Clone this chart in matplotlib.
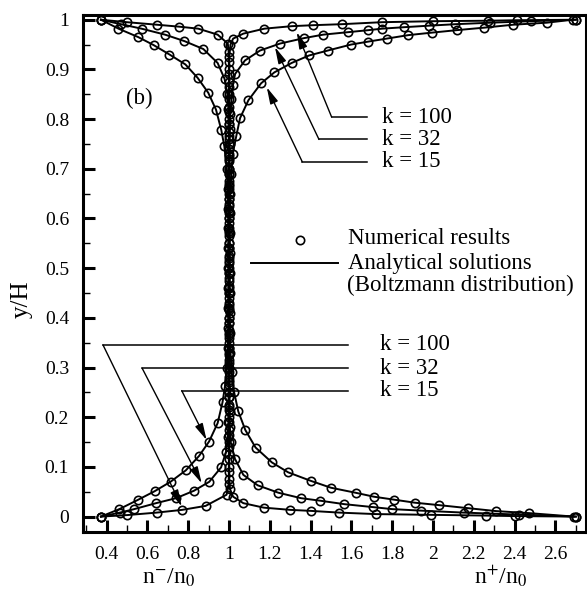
import matplotlib
matplotlib.use("Agg")
import matplotlib.pyplot as plt
from matplotlib.ticker import MultipleLocator, FuncFormatter

plt.rcParams["font.family"] = ["Liberation Serif", "DejaVu Serif"]
plt.rcParams["mathtext.fontset"] = "stix"

# --- marker positions (x = n/n0, y = y/H) ---
# k = 15, anions (n-/n0)
Y_NM15 = [0.000, 0.015, 0.034, 0.051, 0.070, 0.093, 0.122, 0.151, 0.188, 0.230,
          0.262, 0.300, 0.340, 0.380, 0.420, 0.460, 0.500, 0.540, 0.580, 0.620,
          0.660, 0.700, 0.745, 0.778, 0.819, 0.853, 0.883, 0.910, 0.930, 0.949,
          0.965, 0.982, 1.000]
X_NM15 = [0.372, 0.462, 0.555, 0.635, 0.713, 0.788, 0.853, 0.902, 0.944, 0.968,
          0.980, 0.989, 0.994, 0.996, 0.997, 0.997, 0.997, 0.997, 0.997, 0.996,
          0.994, 0.989, 0.977, 0.962, 0.936, 0.898, 0.846, 0.786, 0.708, 0.630,
          0.555, 0.458, 0.372]

# k = 15, cations (n+/n0)
Y_NP15 = [0.000, 0.007, 0.011, 0.017, 0.023, 0.028, 0.034, 0.040, 0.048, 0.058,
          0.072, 0.089, 0.109, 0.139, 0.174, 0.212, 0.250, 0.290, 0.330, 0.370,
          0.410, 0.450, 0.490, 0.530, 0.570, 0.610, 0.650, 0.690, 0.730, 0.765,
          0.802, 0.838, 0.872, 0.894, 0.913, 0.928, 0.938, 0.950, 0.956, 0.962,
          0.969, 0.974, 0.979, 0.984, 0.990, 0.994, 1.000]
X_NP15 = [2.690, 2.470, 2.310, 2.170, 2.030, 1.910, 1.810, 1.710, 1.620, 1.500,
          1.400, 1.290, 1.210, 1.130, 1.080, 1.045, 1.025, 1.013, 1.007, 1.004,
          1.003, 1.003, 1.003, 1.003, 1.003, 1.004, 1.006, 1.011, 1.018, 1.035,
          1.054, 1.095, 1.157, 1.222, 1.307, 1.392, 1.484, 1.598, 1.683, 1.773,
          1.879, 1.994, 2.116, 2.250, 2.394, 2.557, 2.684]

# k = 32, anions
Y_NM32 = [0.000, 0.008, 0.015, 0.027, 0.037, 0.052, 0.070, 0.099, 0.130, 0.160,
          0.190, 0.220, 0.250, 0.280, 0.310, 0.340, 0.370, 0.400, 0.430, 0.460,
          0.490, 0.520, 0.550, 0.580, 0.610, 0.640, 0.670, 0.700, 0.730, 0.760,
          0.790, 0.820, 0.850, 0.881, 0.913, 0.941, 0.957, 0.970, 0.982, 0.991,
          1.000]
X_NM32 = [0.372, 0.465, 0.535, 0.642, 0.740, 0.828, 0.903, 0.961, 0.985, 0.994,
          0.997, 0.998, 0.998, 0.998, 0.998, 0.998, 0.998, 0.998, 0.998, 0.998,
          0.998, 0.998, 0.998, 0.998, 0.998, 0.998, 0.998, 0.998, 0.998, 0.999,
          0.998, 0.997, 0.992, 0.978, 0.944, 0.874, 0.781, 0.686, 0.571, 0.470,
          0.372]

# k = 32, cations
Y_NP32 = [0.000, 0.004, 0.008, 0.012, 0.015, 0.019, 0.025, 0.032, 0.037, 0.048,
          0.063, 0.084, 0.116, 0.150, 0.180, 0.210, 0.240, 0.270, 0.300, 0.330,
          0.360, 0.390, 0.420, 0.450, 0.480, 0.510, 0.540, 0.570, 0.600, 0.630,
          0.660, 0.690, 0.720, 0.750, 0.780, 0.810, 0.840, 0.868, 0.891, 0.918,
          0.938, 0.952, 0.963, 0.970, 0.975, 0.979, 0.982, 0.985, 0.988, 0.991,
          0.994, 0.997, 1.000]
X_NP32 = [2.700, 2.420, 2.150, 1.940, 1.800, 1.707, 1.565, 1.446, 1.353, 1.242,
          1.140, 1.070, 1.029, 1.008, 1.004, 1.003, 1.002, 1.002, 1.002, 1.002,
          1.002, 1.002, 1.002, 1.002, 1.002, 1.002, 1.002, 1.002, 1.002, 1.002,
          1.002, 1.002, 1.002, 1.003, 1.004, 1.006, 1.012, 1.018, 1.030, 1.078,
          1.152, 1.250, 1.368, 1.462, 1.585, 1.683, 1.750, 1.860, 1.980, 2.110,
          2.280, 2.480, 2.700]

# k = 100, anions
Y_NM100 = [0.000, 0.003, 0.008, 0.0135, 0.0215, 0.044, 0.065, 0.090, 0.115, 0.140,
           0.165, 0.190, 0.215, 0.240, 0.265, 0.290, 0.315, 0.340, 0.365, 0.390,
           0.415, 0.440, 0.465, 0.490, 0.515, 0.540, 0.565, 0.590, 0.615, 0.640,
           0.665, 0.690, 0.715, 0.740, 0.765, 0.790, 0.815, 0.840, 0.865, 0.890,
           0.915, 0.935, 0.952, 0.970, 0.982, 0.986, 0.990, 0.995, 1.000]
X_NM100 = [0.372, 0.500, 0.645, 0.770, 0.885, 0.988, 0.998, 0.999, 0.999, 0.999,
           0.999, 0.999, 0.999, 0.999, 0.999, 0.999, 0.999, 0.999, 0.999, 0.999,
           0.999, 0.999, 0.999, 0.999, 0.999, 0.999, 0.999, 0.999, 0.999, 0.999,
           0.999, 0.999, 0.999, 0.999, 0.999, 0.999, 0.999, 0.999, 0.999, 0.999,
           0.999, 0.998, 0.994, 0.944, 0.849, 0.756, 0.645, 0.500, 0.372]

# k = 100, cations
Y_NP100 = [0.000, 0.001, 0.002, 0.0035, 0.005, 0.008, 0.0115, 0.0135, 0.018, 0.027,
           0.040, 0.055, 0.075, 0.100, 0.125, 0.150, 0.175, 0.200, 0.225, 0.250,
           0.275, 0.300, 0.325, 0.350, 0.375, 0.400, 0.425, 0.450, 0.475, 0.500,
           0.525, 0.550, 0.575, 0.600, 0.625, 0.650, 0.675, 0.700, 0.725, 0.750,
           0.775, 0.800, 0.825, 0.850, 0.875, 0.900, 0.925, 0.950, 0.962, 0.972,
           0.982, 0.987, 0.989, 0.991, 0.995, 0.997, 0.998, 0.999, 1.000]
X_NP100 = [2.700, 2.400, 2.260, 1.990, 1.720, 1.540, 1.400, 1.300, 1.170, 1.070,
           1.020, 1.005, 1.001, 1.001, 1.001, 1.001, 1.001, 1.001, 1.001, 1.001,
           1.001, 1.001, 1.001, 1.001, 1.001, 1.001, 1.001, 1.001, 1.001, 1.001,
           1.001, 1.001, 1.001, 1.001, 1.001, 1.001, 1.001, 1.001, 1.001, 1.001,
           1.001, 1.001, 1.001, 1.001, 1.001, 1.001, 1.001, 1.007, 1.020, 1.070,
           1.173, 1.307, 1.413, 1.552, 1.748, 2.000, 2.270, 2.410, 2.700]

CURVES = [(X_NM15, Y_NM15), (X_NP15, Y_NP15),
          (X_NM32, Y_NM32), (X_NP32, Y_NP32),
          (X_NM100, Y_NM100), (X_NP100, Y_NP100)]

K_LABELS = ["k = 100", "k = 32", "k = 15"]

MK = dict(marker="o", ms=6.0, mfc="none", mec="k", mew=1.2)

fig = plt.figure(figsize=(5.87, 5.93), dpi=100)
ax = fig.add_axes([0.1414, 0.1029, 0.8569, 0.8718])

for xs, ys in CURVES:
    ax.plot(xs, ys, color="k", lw=1.4, **MK)

ax.set_xlim(0.284, 2.75)
ax.set_ylim(-0.031, 1.0095)

ax.xaxis.set_major_locator(MultipleLocator(0.2))
ax.xaxis.set_minor_locator(MultipleLocator(0.1))
ax.yaxis.set_major_locator(MultipleLocator(0.1))
ax.yaxis.set_minor_locator(MultipleLocator(0.05))
fmt = FuncFormatter(lambda v, p: f"{round(v, 2):g}")
ax.xaxis.set_major_formatter(fmt)
ax.yaxis.set_major_formatter(fmt)
ax.tick_params(which="major", direction="in", length=8.5, width=2.2,
               labelsize=14, pad=10, top=False, right=False)
ax.tick_params(which="minor", direction="in", length=5, width=1.0,
               top=False, right=False)
for sp in ax.spines.values():
    sp.set_linewidth(2.2)

ax.set_ylabel("y/H", fontsize=18)
ax.yaxis.set_label_coords(-0.10, 0.45)
fig.text(0.288, 0.025, r"n$^{-}$/n$_0$", fontsize=17, ha="center", va="center")
fig.text(0.853, 0.028, r"n$^{+}$/n$_0$", fontsize=17, ha="center", va="center")

ax.text(0.561, 0.842, "(b)", fontsize=16.5, ha="center", va="center")

# legend drawn by hand
ax.plot([1.348], [0.557], linestyle="none", **MK)
ax.text(1.585, 0.5587, "Numerical results", fontsize=16.5, va="center")
ax.plot([1.106, 1.536], [0.51, 0.51], color="k", lw=1.4)
ax.text(1.585, 0.51, "Analytical solutions", fontsize=16.5, va="center")
ax.text(1.577, 0.466, "(Boltzmann distribution)", fontsize=16.5, va="center")

arrow = dict(arrowstyle="-|>,head_length=1.0,head_width=0.25", color="k",
             lw=1.0, shrinkA=0, shrinkB=0, mutation_scale=10)

# upper group: leader start, arrow tip, label
UP_Y = [0.804, 0.759, 0.714]
UP_X0 = [1.503, 1.441, 1.359]
UP_TIP = [(1.332, 0.975), (1.225, 0.945), (1.185, 0.864)]
for lab, y, x0, tip in zip(K_LABELS, UP_Y, UP_X0, UP_TIP):
    ax.plot([x0, 1.675], [y, y], color="k", lw=1.1)
    ax.annotate("", xy=tip, xytext=(x0, y), arrowprops=arrow)
    ax.text(1.749, y, lab, fontsize=16.5, va="center")

# lower group
LO_Y = [0.3455, 0.2986, 0.2535]
LO_X0 = [0.382, 0.574, 0.768]
LO_TIP = [(0.768, 0.0203), (0.866, 0.067), (0.89, 0.154)]
for lab, y, x0, tip in zip(K_LABELS, LO_Y, LO_X0, LO_TIP):
    ax.plot([x0, 1.585], [y, y], color="k", lw=1.1)
    ax.annotate("", xy=tip, xytext=(x0, y), arrowprops=arrow)
    ax.text(1.74, y, lab, fontsize=16.5, va="center")

fig.savefig("out.png", dpi=100, facecolor="white")
